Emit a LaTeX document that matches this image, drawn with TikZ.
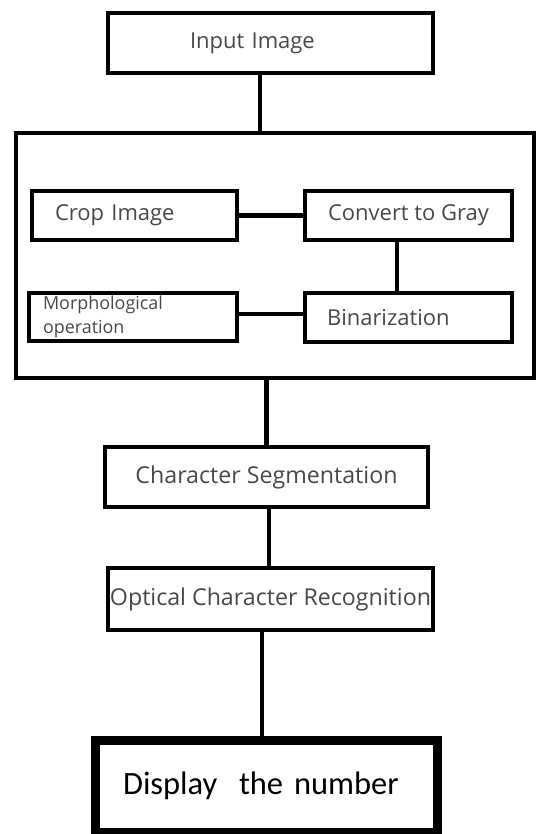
\documentclass[tikz,border=0pt]{standalone}
\usepackage{fontspec}
\setmainfont{Open Sans}
\newfontfamily\dispfont{Carlito}

\begin{document}
\begin{tikzpicture}[x=0.02cm, y=-0.02cm,
    box/.style={draw, line width=0.09cm, inner ysep=0pt, text=black!72,
        font=\fontsize{12.5}{14}\selectfont},
    link/.style={line width=0.09cm}]
    \useasboundingbox (0,0) rectangle (536,834);

    % outer frame round the preprocessing steps
    \node[draw, line width=0.09cm, minimum width=10.36cm, minimum height=4.9cm] (prep) at (275,255.5) {};

    \node[box, minimum height=1.2cm, text width=3.22cm, inner xsep=1.64cm, align=left] (input) at (270.5,43) {Input Image};
    \node[box, minimum height=0.98cm, text width=3.18cm, inner xsep=0.46cm, align=left] (crop) at (134.5,215.5) {Crop Image};
    \node[box, minimum height=0.98cm, minimum width=4.14cm, inner xsep=0pt] (gray) at (408.5,215.5) {Convert to Gray};
    \node[box, minimum height=0.96cm, text width=3.6cm, inner xsep=0.28cm, align=left,
        font=\fontsize{10.2}{13.5}\selectfont] (morph) at (133,317) {Morphological\\operation};
    \node[box, minimum height=0.98cm, text width=3.26cm, inner xsep=0.44cm, align=left] (binar) at (408.5,317.5) {Binarization};
    \node[box, minimum height=1.2cm, minimum width=6.46cm, inner xsep=0pt,
        font=\fontsize{13.2}{15}\selectfont] (seg) at (266.5,477) {Character Segmentation};
    \node[box, minimum height=1.24cm, minimum width=6.5cm, inner xsep=0pt,
        font=\fontsize{13.2}{15}\selectfont] (ocr) at (270.5,599) {\makebox[6.3cm]{Optical Character Recognition}};
    \node[draw, line width=0.18cm, minimum height=1.84cm, text width=5.74cm, inner xsep=0.56cm, align=left,
        font=\dispfont\fontsize{18.5}{22}\selectfont] (disp) at (266.5,786) {Display\ \ the number};

    \coordinate (inbot) at ([xshift=-0.21cm]input.south);
    \coordinate (graybot) at ([xshift=-0.23cm]gray.south);
    \coordinate (ocrbot) at ([xshift=-0.17cm]ocr.south);

    \draw[link] (inbot) -- (inbot |- prep.north);
    \draw[link] (crop.east) -- (gray.west);
    \draw[link] (graybot) -- (graybot |- binar.north);
    \draw[link] ([yshift=0.06cm]morph.east) -- ([yshift=0.06cm]morph.east -| binar.west);
    \draw[link] (seg.north |- prep.south) -- (seg.north);
    \draw[link] ([xshift=0.05cm]seg.south) -- ([xshift=0.05cm]seg.south |- ocr.north);
    \draw[link] (ocrbot) -- (ocrbot |- disp.north);
\end{tikzpicture}
\end{document}
